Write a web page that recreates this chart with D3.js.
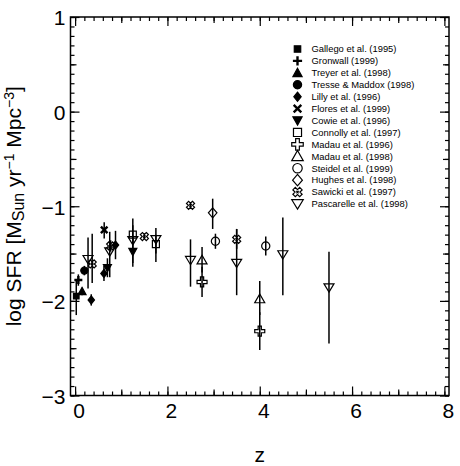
<!DOCTYPE html>
<meta charset="utf-8">
<style>
body { margin: 0; background: #fff; }
text { font-family: "Liberation Sans", Arial, sans-serif; fill: #000; }
.axis path { display: none; }
.axis line { stroke: #000; stroke-width: 1.2px; }
.err { stroke: #000; stroke-width: 1.5px; }
</style>
<svg width="460" height="466"></svg>
<script src="https://d3js.org/d3.v7.min.js"></script>
<script>
// star formation history compilation, log SFR vs redshift
var svg = d3.select("svg"),
    plotLeft = 70.5, plotRight = 449, plotTop = 17, plotBottom = 395.5;

// data, one set of arrays per study (z, log SFR, upper and lower end of error bar)
var gallegoZ = [0.025], gallegoSFR = [-1.95], gallegoHi = [-1.78], gallegoLo = [-2.15];
var gronwallZ = [0.07], gronwallSFR = [-1.78], gronwallHi = [-1.72], gronwallLo = [-1.84];
var treyerZ = [0.15], treyerSFR = [-1.90], treyerHi = [-1.86], treyerLo = [-1.94];
var tresseZ = [0.2], tresseSFR = [-1.68], tresseHi = [-1.63], tresseLo = [-1.73];
var lillyZ = [0.35, 0.625, 0.875], lillySFR = [-1.99, -1.71, -1.41], lillyHi = [-1.93, -1.63, -1.26], lillyLo = [-2.05, -1.79, -1.56];
var floresZ = [0.63], floresSFR = [-1.25], floresHi = [-1.17], floresLo = [-1.34];
var cowieZ = [0.7, 1.25], cowieSFR = [-1.65, -1.48], cowieHi = [-1.55, -1.33], cowieLo = [-1.75, -1.64];
var connollyZ = [1.25, 1.75], connollySFR = [-1.30, -1.40], connollyHi = [-1.2, -1.3], connollyLo = [-1.4, -1.5];
var madau96Z = [2.75, 4.0], madau96SFR = [-1.80, -2.32], madau96Hi = [-1.64, -2.12], madau96Lo = [-1.96, -2.52];
var madau98Z = [2.75, 4.0], madau98SFR = [-1.57, -1.98], madau98Hi = [-1.43, -1.79], madau98Lo = [-1.70, -2.15];
var steidelZ = [3.04, 4.13], steidelSFR = [-1.37, -1.42], steidelHi = [-1.29, -1.32], steidelLo = [-1.45, -1.52];
var hughesZ = [2.98], hughesSFR = [-1.07], hughesHi = [-0.92], hughesLo = [-1.24];
var sawickiZ = [0.37, 0.77, 1.5, 2.5, 3.5], sawickiSFR = [-1.61, -1.42, -1.32, -0.99, -1.35],
    sawickiHi = [-1.29, -1.36, -1.29, -0.96, -1.24], sawickiLo = [-1.81, -1.48, -1.35, -1.02, -1.45];
var pascarelleZ = [0.28, 0.75, 1.25, 1.75, 2.5, 3.5, 4.5, 5.5],
    pascarelleSFR = [-1.56, -1.48, -1.36, -1.35, -1.57, -1.60, -1.51, -1.86],
    pascarelleHi = [-1.33, -1.27, -1.13, -1.23, -1.35, -1.24, -1.12, -1.48],
    pascarelleLo = [-1.87, -1.75, -1.60, -1.59, -1.85, -1.94, -1.94, -2.45];

var labels = ["Gallego et al. (1995)", "Gronwall (1999)", "Treyer et al. (1998)", "Tresse & Maddox (1998)",
  "Lilly et al. (1996)", "Flores et al. (1999)", "Cowie et al. (1996)", "Connolly et al. (1997)",
  "Madau et al. (1996)", "Madau et al. (1998)", "Steidel et al. (1999)", "Hughes et al. (1998)",
  "Sawicki et al. (1997)", "Pascarelle et al. (1998)"];
var shapes = ["fsquare", "fplus", "ftri", "fcircle", "fdiamond", "fx", "fdtri",
  "osquare", "ocross", "otri", "ocircle", "odiamond", "osawicki", "odtri"];

var xTicks = [0, 2, 4, 6, 8],
    yTicks = [-3, -2, -1, 0, 1];

var series = [
  [gallegoZ, gallegoSFR, gallegoHi, gallegoLo],
  [gronwallZ, gronwallSFR, gronwallHi, gronwallLo],
  [treyerZ, treyerSFR, treyerHi, treyerLo],
  [tresseZ, tresseSFR, tresseHi, tresseLo],
  [lillyZ, lillySFR, lillyHi, lillyLo],
  [floresZ, floresSFR, floresHi, floresLo],
  [cowieZ, cowieSFR, cowieHi, cowieLo],
  [connollyZ, connollySFR, connollyHi, connollyLo],
  [madau96Z, madau96SFR, madau96Hi, madau96Lo],
  [madau98Z, madau98SFR, madau98Hi, madau98Lo],
  [steidelZ, steidelSFR, steidelHi, steidelLo],
  [hughesZ, hughesSFR, hughesHi, hughesLo],
  [sawickiZ, sawickiSFR, sawickiHi, sawickiLo],
  [pascarelleZ, pascarelleSFR, pascarelleHi, pascarelleLo]
];

var points = [];
series.forEach(function(s, i) {
  s[0].forEach(function(z, j) {
    points.push({shape: shapes[i], z: z, sfr: s[1][j], hi: s[2][j], lo: s[3][j]});
  });
});

var x = d3.scaleLinear().domain([-0.1, 8.1]).range([plotLeft, plotRight]);
var y = d3.scaleLinear().domain([-3, 1]).range([plotBottom, plotTop]);

// symbol shapes, returns path string centred on 0,0
function shapePath(shape, big) {
  var k = big ? 1.15 : 1;
  var p = d3.path(), s, w;
  switch (shape) {
    case "fsquare": s = 2.8 * k; p.rect(-s, -s, 2 * s, 2 * s); break;
    case "osquare": s = 3.5 * k; p.rect(-s, -s, 2 * s, 2 * s); break;
    case "fcircle": p.arc(0, 0, 3.6 * k, 0, 2 * Math.PI); break;
    case "ocircle": p.arc(0, 0, 4.1 * k, 0, 2 * Math.PI); break;
    case "ftri": s = 4 * k; p.moveTo(0, -s); p.lineTo(s, s * 0.8); p.lineTo(-s, s * 0.8); p.closePath(); break;
    case "otri": s = 5 * k; p.moveTo(0, -s); p.lineTo(s, s * 0.75); p.lineTo(-s, s * 0.75); p.closePath(); break;
    case "fdtri": s = 4 * k; p.moveTo(0, s); p.lineTo(s, -s * 0.8); p.lineTo(-s, -s * 0.8); p.closePath(); break;
    case "odtri": s = 5 * k; p.moveTo(0, s * 0.9); p.lineTo(s, -s * 0.75); p.lineTo(-s, -s * 0.75); p.closePath(); break;
    case "fdiamond": s = 4 * k; p.moveTo(0, -s); p.lineTo(s * 0.8, 0); p.lineTo(0, s); p.lineTo(-s * 0.8, 0); p.closePath(); break;
    case "odiamond": s = 5 * k; p.moveTo(0, -s); p.lineTo(s * 0.85, 0); p.lineTo(0, s); p.lineTo(-s * 0.85, 0); p.closePath(); break;
    case "fplus": s = 4 * k; p.moveTo(-s, 0); p.lineTo(s, 0); p.moveTo(0, -s); p.lineTo(0, s); break;
    case "fx": s = 3.3 * k; p.moveTo(-s, -s); p.lineTo(s, s); p.moveTo(s, -s); p.lineTo(-s, s); break;
    case "ocross":
      s = 5 * k; w = 1.6 * k;
      p.moveTo(-w, -s); p.lineTo(w, -s); p.lineTo(w, -w); p.lineTo(s, -w); p.lineTo(s, w); p.lineTo(w, w);
      p.lineTo(w, s); p.lineTo(-w, s); p.lineTo(-w, w); p.lineTo(-s, w); p.lineTo(-s, -w); p.lineTo(-w, -w); p.closePath();
      break;
    case "osawicki":
      s = 4.2 * k; w = 1.5 * k;
      // x-shaped outline: plus outline turned by 45 degrees
      var pts = [[-w, -s], [w, -s], [w, -w], [s, -w], [s, w], [w, w], [w, s], [-w, s], [-w, w], [-s, w], [-s, -w], [-w, -w]];
      var c = Math.SQRT1_2;
      pts.forEach(function(q, i) {
        var px = (q[0] - q[1]) * c, py = (q[0] + q[1]) * c;
        if (i === 0) p.moveTo(px, py); else p.lineTo(px, py);
      });
      p.closePath();
      p.moveTo(-1.2, -1.2); p.lineTo(1.2, 1.2); p.moveTo(1.2, -1.2); p.lineTo(-1.2, 1.2);
      break;
  }
  return p.toString();
}
function shapeFill(shape) { return shape.charAt(0) === "f" && shape !== "fplus" && shape !== "fx" ? "#000" : "none"; }
function shapeStroke(shape) { return shape === "fplus" || shape === "fx" ? 2.4 : 1.2; }

// axes: major, medium and minor ticks, all pointing inward, on all four sides
function addAxis(axisFn, scale, vals, size, tr, showLabels) {
  var a = axisFn(scale).tickValues(vals).tickSizeInner(-size).tickSizeOuter(0);
  if (!showLabels) a.tickFormat("");
  var g = svg.append("g").attr("class", "axis").attr("transform", tr).call(a);
  return g;
}
var xMinor = d3.range(0, 81, 2).map(function(d) { return d / 10; }),
    xMid = [1, 3, 5, 7],
    yMinor = d3.range(-30, 11, 1).map(function(d) { return d / 10; }),
    yMid = [-2.5, -1.5, -0.5, 0.5];

[[d3.axisBottom, "translate(0," + plotBottom + ")"], [d3.axisTop, "translate(0," + plotTop + ")"]].forEach(function(a, i) {
  addAxis(a[0], x, xMinor, 4, a[1], false);
  addAxis(a[0], x, xMid, 6, a[1], false);
  var g = addAxis(a[0], x, xTicks, 9, a[1], i === 0);
  if (i === 0) g.selectAll("text").attr("font-size", 21).attr("dx", 3.5).attr("y", 8).attr("font-family", null);
});
[[d3.axisLeft, "translate(" + plotLeft + ",0)"], [d3.axisRight, "translate(" + plotRight + ",0)"]].forEach(function(a, i) {
  addAxis(a[0], y, yMinor, 4, a[1], false);
  addAxis(a[0], y, yMid, 6, a[1], false);
  var g = addAxis(a[0], y, yTicks, 9, a[1], i === 0);
  if (i === 0) g.selectAll("text").attr("font-size", 21).attr("x", -5).attr("dy", "0.38em").attr("font-family", null)
    .text(function(d) { return d < 0 ? "\u2212" + Math.abs(d) : d; });
});

svg.append("rect")
    .attr("x", plotLeft).attr("y", plotTop)
    .attr("width", plotRight - plotLeft).attr("height", plotBottom - plotTop)
    .attr("fill", "none").attr("stroke", "#000").attr("stroke-width", 1.5);

// error bars
svg.append("g").selectAll("line")
    .data(points.filter(function(d) { return d.hi !== d.lo; }))
  .enter().append("line")
    .attr("class", "err")
    .attr("x1", function(d) { return x(d.z); }).attr("x2", function(d) { return x(d.z); })
    .attr("y1", function(d) { return y(d.hi); }).attr("y2", function(d) { return y(d.lo); });

// markers
svg.append("g").selectAll("path")
    .data(points)
  .enter().append("path")
    .attr("transform", function(d) { return "translate(" + x(d.z) + "," + y(d.sfr) + ")"; })
    .attr("d", function(d) { return shapePath(d.shape, false); })
    .attr("fill", function(d) { return shapeFill(d.shape); })
    .attr("stroke", "#000")
    .attr("stroke-width", function(d) { return shapeStroke(d.shape); });

// legend
var ly = d3.scalePoint().domain(labels).range([49, 204]);
var leg = svg.append("g").selectAll("g")
    .data(labels)
  .enter().append("g")
    .attr("transform", function(d) { return "translate(297.5," + ly(d) + ")"; });
leg.append("path")
    .attr("d", function(d, i) { return shapePath(shapes[i], true); })
    .attr("fill", function(d, i) { return shapeFill(shapes[i]); })
    .attr("stroke", "#000")
    .attr("stroke-width", function(d, i) { return shapeStroke(shapes[i]); });
leg.append("text")
    .attr("x", 14).attr("dy", "0.35em")
    .attr("font-size", 9.4)
    .text(function(d) { return d; });

// axis titles
svg.append("text")
    .attr("x", (plotLeft + plotRight) / 2).attr("y", 462)
    .attr("text-anchor", "middle").attr("font-size", 21)
    .text("z");

var yl = svg.append("text")
    .attr("transform", "translate(21," + (plotTop + plotBottom) / 2 + ") rotate(-90)")
    .attr("text-anchor", "middle").attr("font-size", 21);
yl.append("tspan").text("log SFR  [M");
yl.append("tspan").attr("font-size", 16).attr("dy", 3).text("Sun");
yl.append("tspan").attr("dy", -3).text(" yr");
yl.append("tspan").attr("font-size", 14).attr("dy", -7).text("\u22121");
yl.append("tspan").attr("dy", 7).text(" Mpc");
yl.append("tspan").attr("font-size", 14).attr("dy", -7).text("\u22123");
yl.append("tspan").attr("dy", 7).text("]");
</script>
